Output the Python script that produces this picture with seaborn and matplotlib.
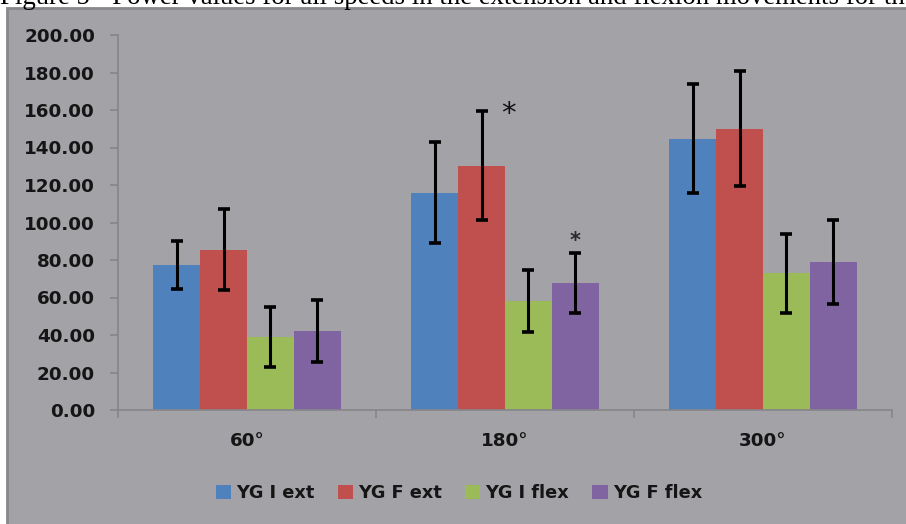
import matplotlib
matplotlib.use("Agg")
import matplotlib.pyplot as plt
from matplotlib.patches import Rectangle
import numpy as np
import pandas as pd
import seaborn as sns

# Mean power per angular speed and group, with standard deviations
speeds = ["60°", "180°", "300°"]
groups = ["YG I ext", "YG F ext", "YG I flex", "YG F flex"]
yg_i_ext = [77.5, 116.0, 144.7]
yg_f_ext = [85.5, 130.4, 150.0]
yg_i_flex = [38.8, 58.0, 73.0]
yg_f_flex = [42.0, 68.0, 79.0]
sd_i_ext = [12.8, 27.0, 29.0]
sd_f_ext = [21.7, 29.2, 30.7]
sd_i_flex = [16.0, 16.6, 21.0]
sd_f_flex = [16.5, 16.0, 22.5]
y_ticks = [0, 20, 40, 60, 80, 100, 120, 140, 160, 180, 200]
caption = "Figure 5 - Power values for all speeds in the extension and flexion movements for the"

means = [yg_i_ext, yg_f_ext, yg_i_flex, yg_f_flex]
sds = [sd_i_ext, sd_f_ext, sd_i_flex, sd_f_flex]
colors = ["#4f81bd", "#c0504d", "#9bbb59", "#8064a2"]

rows = []
for g, vals in zip(groups, means):
    for s, v in zip(speeds, vals):
        rows.append({"speed": s, "group": g, "power": v})
df = pd.DataFrame(rows)

sns.set_style("ticks")
plt.rcParams["font.family"] = ["DejaVu Sans"]

W, H = 906, 524
fig = plt.figure(figsize=(W / 100, H / 100), dpi=100, facecolor="white")

panel_bg = "#a3a2a7"
fig.patches.append(Rectangle((7 / W, -0.05), 1.1, 1 - 8 / H + 0.05,
                             transform=fig.transFigure, facecolor=panel_bg,
                             edgecolor="#88878b", linewidth=2, zorder=-1))

# caption line running off the top of the image
fig.text(0.0, 1 - 4 / H, caption, family="Liberation Serif", fontsize=19.3,
         ha="left", va="baseline", color="black", zorder=-0.5)

ax = fig.add_axes([118 / W, 1 - 410 / H, (892 - 118) / W, (410 - 35) / H])
ax.set_facecolor("none")
ax.set_zorder(2)

sns.barplot(data=df, x="speed", y="power", hue="group", hue_order=groups,
            order=speeds, palette=colors, width=0.725, gap=0, errorbar=None,
            saturation=1, linewidth=0, ax=ax)

# error bars at the centre of every bar
for cont, m, s in zip(ax.containers, means, sds):
    xs = [b.get_x() + b.get_width() / 2 for b in cont]
    ax.errorbar(xs, m, yerr=s, fmt="none", ecolor="black", elinewidth=2.2,
                capsize=4.3, capthick=2.6, zorder=5)

# significance markers
red_bar = ax.containers[1][1]
ax.text(red_bar.get_x() + red_bar.get_width() * 1.07,
        yg_f_ext[1] + sd_f_ext[1] - 1.5, "*", fontsize=21, ha="center",
        va="center", color="#111111")
purple_bar = ax.containers[3][1]
ax.text(purple_bar.get_x() + purple_bar.get_width() / 2,
        yg_f_flex[1] + sd_f_flex[1] + 6, "*", fontsize=15, ha="center",
        va="center", color="#2a2a2a", fontweight="bold")

ax.set_xlim(-0.5, 2.5)
ax.set_ylim(0, 200)
ax.set_yticks(y_ticks)
ax.set_yticklabels([f"{t:.2f}" for t in y_ticks])
ax.set_xticks([-0.5, 0.5, 1.5, 2.5])
ax.set_xticklabels([])
ax.set_xticks([0, 1, 2], minor=True)
ax.set_xticklabels(speeds, minor=True)
ax.set_xlabel("")
ax.set_ylabel("")

axis_col = "#86858a"
for side in ["top", "right"]:
    ax.spines[side].set_visible(False)
for side in ["left", "bottom"]:
    ax.spines[side].set_color(axis_col)
    ax.spines[side].set_linewidth(1.2)

ax.tick_params(axis="y", direction="out", length=6, width=1.2, color=axis_col,
               pad=10.5, labelsize=13.2, labelcolor="#151515")
ax.tick_params(axis="x", which="major", direction="out", length=6, width=1.2,
               color=axis_col)
ax.tick_params(axis="x", which="minor", length=0, pad=16, labelsize=13.2,
               labelcolor="#151515")
for lab in ax.get_yticklabels() + ax.get_xticklabels(minor=True):
    lab.set_fontweight("bold")

handles, labels = ax.get_legend_handles_labels()
ax.legend_.remove()
fig.legend(handles, labels, loc="center", bbox_to_anchor=(459 / W, 1 - 493 / H),
           ncol=4, frameon=False, prop={"size": 12.8, "weight": "bold"},
           handlelength=0.85, handleheight=0.85, handletextpad=0.3,
           columnspacing=1.3, labelcolor="#151515")

fig.savefig("out.png", dpi=100, facecolor="white")
